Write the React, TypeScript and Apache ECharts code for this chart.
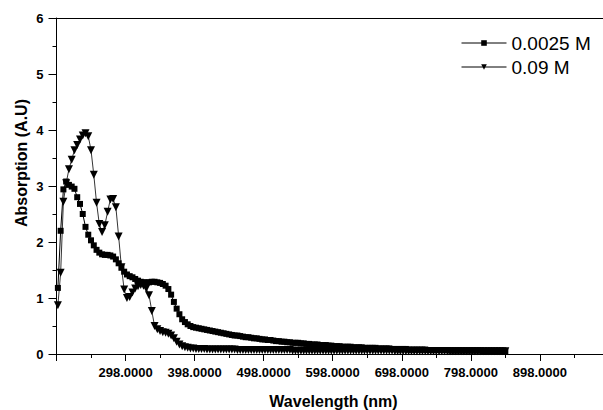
import React, { useEffect, useRef } from "react";
import * as echarts from "echarts";

// Wavelength grid (nm): regular instrument grid
const START_NM = 200;
const STEP_NM = 4;
const X_ORIGIN = 198; // axis starts at 198 nm
const X_END = 998;
const X_TICK_LABELS = ["298.0000", "398.0000", "498.0000", "598.0000", "698.0000", "798.0000", "898.0000"];
const Y_TICKS = [0, 1, 2, 3, 4, 5, 6];

const SERIES_NAMES = ["0.0025 M", "0.09 M"];

// 0.0025 M (squares)
const absLow = [
  1.18, 2.2, 2.94, 3.08, 3.02, 2.99, 2.95, 2.8, 2.68, 2.5,
  2.27, 2.13, 2.03, 1.94, 1.86, 1.81, 1.78, 1.77, 1.77, 1.76,
  1.74, 1.69, 1.62, 1.54, 1.47, 1.42, 1.39, 1.37, 1.34, 1.31,
  1.29, 1.28, 1.28, 1.28, 1.29, 1.29, 1.28, 1.27, 1.25, 1.22,
  1.16, 1.06, 0.93, 0.81, 0.71, 0.62, 0.57, 0.53, 0.5, 0.48,
  0.47, 0.46, 0.45, 0.44, 0.43, 0.42, 0.41, 0.4, 0.39, 0.38,
  0.37, 0.36, 0.35, 0.34, 0.33, 0.33, 0.32, 0.31, 0.3, 0.3,
  0.29, 0.28, 0.28, 0.27, 0.26, 0.26, 0.25, 0.25, 0.24, 0.23,
  0.23, 0.22, 0.22, 0.21, 0.21, 0.2, 0.2, 0.2, 0.19, 0.19,
  0.18, 0.18, 0.17, 0.17, 0.17, 0.16, 0.16, 0.16, 0.15, 0.15,
  0.14, 0.14, 0.14, 0.13, 0.13, 0.13, 0.13, 0.12, 0.12, 0.12,
  0.12, 0.11, 0.11, 0.11, 0.11, 0.11, 0.1, 0.1, 0.1, 0.1,
  0.1, 0.09, 0.09, 0.09, 0.09, 0.09, 0.09, 0.08, 0.08, 0.08,
  0.08, 0.08, 0.08, 0.08, 0.07, 0.07, 0.07, 0.07, 0.07, 0.07,
  0.07, 0.07, 0.06, 0.06, 0.06, 0.06, 0.06, 0.06, 0.06, 0.06,
  0.06, 0.06, 0.06, 0.06, 0.05, 0.05, 0.05, 0.05, 0.05, 0.05,
  0.05, 0.05, 0.05,
];

// 0.09 M (down triangles)
const absHigh = [
  0.87, 1.45, 2.72, 3.05, 3.3, 3.47, 3.64, 3.73, 3.83, 3.9,
  3.94, 3.89, 3.64, 3.2, 2.7, 2.32, 2.18, 2.3, 2.54, 2.76,
  2.77, 2.62, 2.1, 1.55, 1.15, 1.0, 1.02, 1.1, 1.17, 1.21,
  1.23, 1.22, 1.17, 1.05, 0.77, 0.5, 0.44, 0.41, 0.39, 0.38,
  0.36, 0.33, 0.28, 0.22, 0.17, 0.14, 0.12, 0.11, 0.1, 0.1,
  0.09, 0.09, 0.09, 0.09, 0.08, 0.08, 0.08, 0.08, 0.08, 0.08,
  0.08, 0.08, 0.08, 0.08, 0.08, 0.07, 0.07, 0.07, 0.07, 0.07,
  0.07, 0.07, 0.07, 0.07, 0.07, 0.07, 0.07, 0.07, 0.07, 0.07,
  0.07, 0.07, 0.07, 0.07, 0.07, 0.06, 0.06, 0.06, 0.06, 0.06,
  0.06, 0.06, 0.06, 0.06, 0.06, 0.06, 0.06, 0.06, 0.06, 0.06,
  0.06, 0.06, 0.06, 0.06, 0.06, 0.06, 0.06, 0.06, 0.06, 0.06,
  0.06, 0.06, 0.06, 0.06, 0.06, 0.06, 0.06, 0.06, 0.06, 0.06,
  0.06, 0.06, 0.05, 0.05, 0.05, 0.05, 0.05, 0.05, 0.05, 0.05,
  0.05, 0.05, 0.05, 0.05, 0.05, 0.05, 0.05, 0.05, 0.05, 0.05,
  0.05, 0.05, 0.05, 0.05, 0.05, 0.05, 0.05, 0.05, 0.05, 0.05,
  0.05, 0.05, 0.05, 0.05, 0.05, 0.05, 0.05, 0.05, 0.05, 0.05,
  0.05, 0.05, 0.05,
];

const FONT = '"Liberation Sans", Arial, Helvetica, sans-serif';

export default function App() {
  const ref = useRef<HTMLDivElement>(null);

  useEffect(() => {
    document.body.style.margin = "0";
    if (!ref.current) return;
    const chart = echarts.init(ref.current, undefined, { renderer: "svg" });

    const toPoints = (vals: number[]) =>
      vals.map((v, i) => [START_NM + i * STEP_NM - X_ORIGIN, v]);

    const option: any = {
      animation: false,
      backgroundColor: "#fff",
      grid: {
        left: 56.5,
        top: 18,
        width: 552.4,
        height: 336,
        outerBoundsMode: "none",
        containLabel: false,
        show: false,
      },
      legend: {
        orient: "vertical",
        left: 461,
        top: 33,
        padding: 0,
        itemWidth: 45,
        itemHeight: 7,
        itemGap: 4,
        lineStyle: { width: 1 },
        textStyle: { fontFamily: FONT, fontSize: 19, color: "#000", lineHeight: 20 },
        data: SERIES_NAMES,
      },
      xAxis: [
        {
          type: "value",
          position: "bottom",
          min: 0,
          max: X_END - X_ORIGIN,
          interval: 100,
          axisLine: { show: true, onZero: false, lineStyle: { color: "#000", width: 1 } },
          axisTick: { show: true, inside: false, length: 7, lineStyle: { color: "#000" } },
          minorTick: { show: true, splitNumber: 2, length: 4, lineStyle: { color: "#000" } },
          splitLine: { show: false },
          axisLabel: {
            margin: 12,
            fontFamily: FONT,
            fontWeight: "bold",
            fontSize: 13,
            color: "#000",
            showMinLabel: true,
            showMaxLabel: true,
            formatter: (v: number) => {
              const idx = Math.round(v / 100) - 1;
              return idx >= 0 && idx < X_TICK_LABELS.length ? X_TICK_LABELS[idx] : "";
            },
          },
        },
        {
          type: "value",
          position: "top",
          min: 0,
          max: X_END - X_ORIGIN,
          interval: 100,
          axisLine: { show: true, onZero: false, lineStyle: { color: "#000", width: 1 } },
          axisTick: { show: false },
          minorTick: { show: false },
          splitLine: { show: false },
          axisLabel: { show: false },
        },
      ],
      yAxis: {
        type: "value",
        min: Y_TICKS[0],
        max: Y_TICKS[Y_TICKS.length - 1],
        interval: 1,
        axisLine: { show: true, lineStyle: { color: "#000", width: 1 } },
        axisTick: { show: true, inside: false, length: 8, lineStyle: { color: "#000" } },
        minorTick: { show: true, splitNumber: 2, length: 4, lineStyle: { color: "#000" } },
        splitLine: { show: false },
        axisLabel: {
          margin: 13,
          fontFamily: FONT,
          fontWeight: "bold",
          fontSize: 13,
          color: "#000",
        },
      },
      series: [
        {
          name: SERIES_NAMES[0],
          type: "line",
          xAxisIndex: 0,
          data: toPoints(absLow),
          symbol: "rect",
          symbolSize: 6,
          showAllSymbol: true,
          lineStyle: { color: "#000", width: 1 },
          itemStyle: { color: "#000" },
          z: 3,
        },
        {
          name: SERIES_NAMES[1],
          type: "line",
          xAxisIndex: 0,
          data: toPoints(absHigh),
          symbol: "triangle",
          symbolSize: 8,
          symbolRotate: 180,
          showAllSymbol: true,
          lineStyle: { color: "#000", width: 0.8 },
          itemStyle: { color: "#000" },
          z: 3,
        },
      ],
      graphic: [
        {
          type: "text",
          x: 21,
          y: 163,
          rotation: Math.PI / 2,
          style: {
            text: "Absorption (A.U)",
            font: `bold 16px ${FONT}`,
            fill: "#000",
            textAlign: "center",
            textVerticalAlign: "middle",
            align: "center",
            verticalAlign: "middle",
          },
        },
        {
          type: "text",
          x: 333.5,
          y: 401,
          style: {
            text: "Wavelength (nm)",
            font: `bold 16px ${FONT}`,
            fill: "#000",
            textAlign: "center",
            textVerticalAlign: "middle",
            align: "center",
            verticalAlign: "middle",
          },
        },
      ],
    };

    chart.setOption(option);
    return () => chart.dispose();
  }, []);

  return <div ref={ref} style={{ width: 603, height: 410 }} />;
}
